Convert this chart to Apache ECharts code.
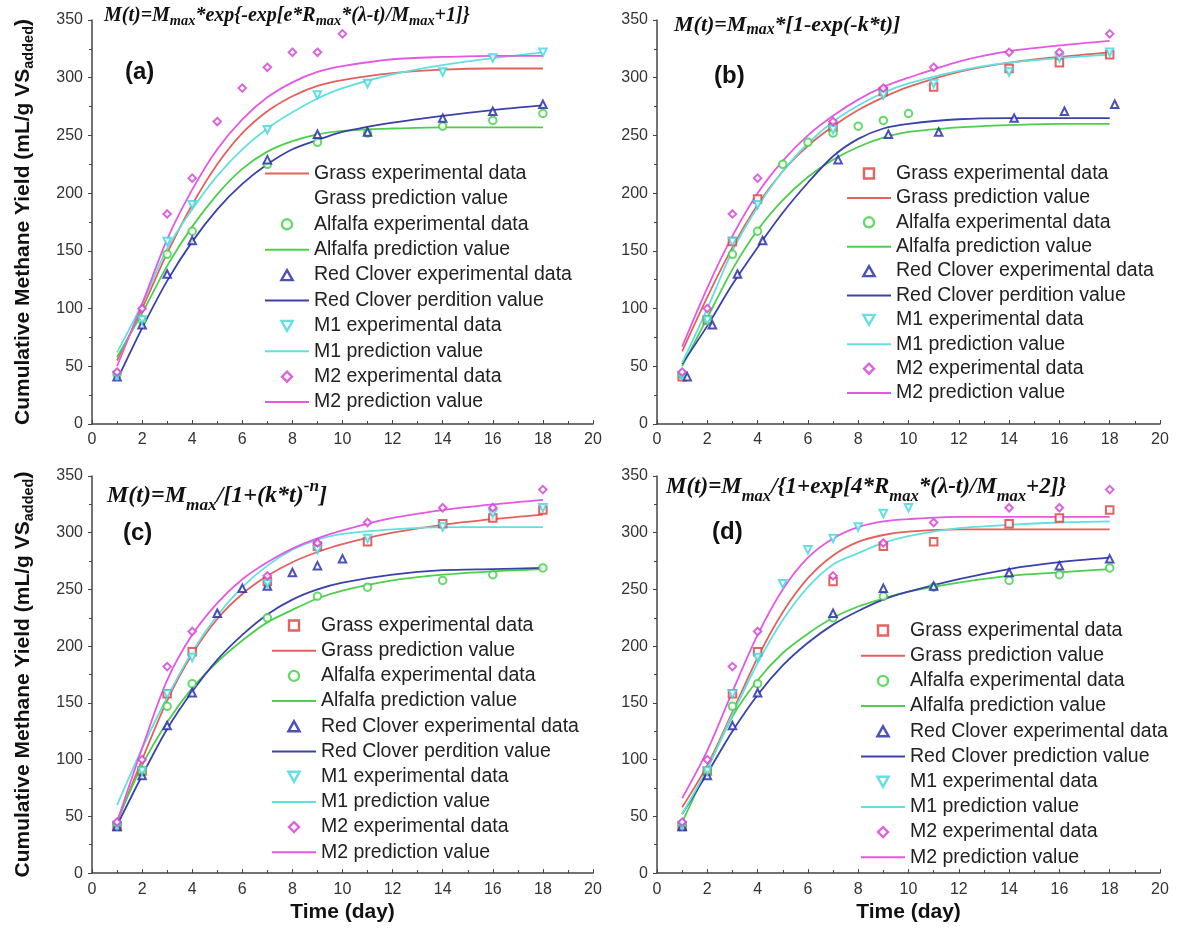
<!DOCTYPE html>
<html>
<head>
<meta charset="utf-8">
<script src="https://cdn.jsdelivr.net/npm/echarts@6/dist/echarts.min.js"></script>
<style>
  body { margin: 0; background: #fff; }
  .panel { position: absolute; height: 464px; }
</style>
</head>
<body>
<div id="pa" class="panel" style="left:0;top:0;width:610px"></div>
<div id="pb" class="panel" style="left:610px;top:0;width:568px"></div>
<div id="pc" class="panel" style="left:0;top:464px;width:610px"></div>
<div id="pd" class="panel" style="left:610px;top:464px;width:568px"></div>
<script>
// sampling days
const expDays = [1, 2, 3, 4, 7, 9, 11, 14, 16, 18];
const seqDays = [1, 2, 3, 4, 5, 6, 7, 8, 9, 10];
const shiftDays = [1.2, 2.2, 3.2, 4.2, 7.2, 9.2, 11.2, 14.2, 16.2, 18.2];
const fitDays = [1, 2, 3, 4, 5, 6, 7, 8, 9, 10, 12, 14, 16, 18];

// experimental data
const grassExp = [41, 90, 158, 195, 257, 288, 292, 308, 313, 320];
const alfalfaExp = [43, 90, 147, 167, 225, 244, 252, 258, 263, 269];
const cloverExp = [41, 86, 130, 159, 229, 251, 253, 265, 271, 277];
const m1Exp = [42, 90, 158, 190, 255, 285, 295, 305, 317, 322];
const m2Exp = [45, 100, 182, 213, 262, 291, 309, 322, 322, 338];

// (a) modified Gompertz
const grassFitA = [55, 100, 148, 190, 225, 252, 271, 284, 293, 298, 304, 307, 308, 308];
const alfalfaFitA = [58, 96, 137, 171, 199, 221, 236, 245, 251, 254, 256, 257, 257, 257];
const cloverFitA = [38, 83, 124, 158, 186, 208, 225, 238, 246, 253, 261, 267, 272, 276];
const m1FitA = [62, 104, 152, 186, 215, 238, 256, 270, 282, 291, 303, 311, 317, 322];
const m2FitA = [50, 104, 160, 203, 238, 264, 283, 296, 305, 310, 316, 318, 319, 319];

// (b) first order
const grassFitB = [63, 110, 153, 190, 219, 241, 258, 272, 283, 292, 305, 313, 318, 322];
const alfalfaFitB = [50, 92, 134, 168, 194, 214, 229, 240, 248, 253, 257, 259, 260, 260];
const cloverFitB = [52, 85, 121, 153, 183, 209, 232, 247, 256, 260, 264, 265, 265, 265];
const m1FitB = [53, 100, 150, 188, 219, 243, 262, 276, 287, 295, 306, 313, 317, 320];
const m2FitB = [67, 118, 163, 200, 228, 250, 267, 281, 292, 300, 314, 323, 328, 332];

// (c) cone
const grassFitC = [45, 100, 152, 193, 224, 246, 262, 274, 283, 290, 300, 307, 312, 316];
const alfalfaFitC = [46, 95, 133, 163, 186, 205, 221, 232, 242, 249, 258, 263, 266, 268];
const cloverFitC = [42, 86, 127, 160, 188, 210, 228, 241, 250, 256, 263, 267, 268, 269];
const m1FitC = [60, 110, 155, 195, 227, 252, 271, 285, 294, 299, 303, 305, 305, 305];
const m2FitC = [45, 110, 170, 210, 238, 259, 274, 286, 295, 302, 313, 320, 325, 329];

// (d) logistic
const grassFitD = [58, 95, 142, 190, 230, 260, 280, 292, 298, 301, 303, 303, 303, 303];
const alfalfaFitD = [45, 92, 138, 170, 194, 211, 225, 235, 242, 248, 256, 262, 265, 268];
const cloverFitD = [52, 88, 125, 157, 183, 203, 219, 231, 241, 248, 259, 268, 274, 278];
const m1FitD = [52, 92, 140, 185, 223, 252, 272, 282, 291, 297, 304, 307, 309, 310];
const m2FitD = [66, 108, 160, 210, 250, 278, 295, 305, 310, 312, 314, 314, 314, 314];

const markColors = { grass: '#e03a3a', alfalfa: '#3fcf45', clover: '#1f24a8', m1: '#3fd6e0', m2: '#d23fd2' };
const lineColors = { grass: '#e4605a', alfalfa: '#4ccf4c', clover: '#3a42a8', m1: '#62e0e0', m2: '#e458e4' };

// legend icons (kept to aspect inside the item box)
const icons = {
  line: 'path://M0,0h44v2h-44z',
  rect: 'path://M0,0h8v8h-8z',
  circle: 'path://M8,4A4,4,0,1,1,0,4A4,4,0,1,1,8,4z',
  triUp: 'path://M4.5,0L9,8L0,8z',
  triDown: 'path://M0,0L9,0L4.5,8z',
  diamond: 'path://M4.5,0L9,4.5L4.5,9L0,4.5z',
};

const pts = (xs, ys) => xs.map((x, i) => [x, ys[i]]);

function scatter(name, xs, ys, symbol, color, rotate) {
  return {
    name, type: 'scatter', data: pts(xs, ys), symbol, symbolSize: 7.5,
    symbolRotate: rotate || 0, itemStyle: { color, borderWidth: 1.6 }, z: 3,
  };
}

function curve(name, ys, color) {
  return {
    name, type: 'line', data: pts(fitDays, ys), smooth: 0.3,
    symbol: 'none', lineStyle: { color, width: 1.8 }, itemStyle: { color }, z: 2,
  };
}

const expItem = (name, icon, color) => ({
  name, icon, itemStyle: { color: '#fff', borderColor: color, borderWidth: 2.4 },
});
const lineItem = (name, color) => ({
  name, icon: icons.line, itemStyle: { color, borderWidth: 0 },
});

function fullSeries(fits, xs, cloverName) {
  return [
    scatter('Grass experimental data', xs[0], grassExp, 'emptyRect', markColors.grass),
    curve('Grass prediction value', fits[0], lineColors.grass),
    scatter('Alfalfa experimental data', xs[1], alfalfaExp, 'emptyCircle', markColors.alfalfa),
    curve('Alfalfa prediction value', fits[1], lineColors.alfalfa),
    scatter('Red Clover experimental data', xs[2], cloverExp, 'emptyTriangle', markColors.clover),
    curve(cloverName, fits[2], lineColors.clover),
    scatter('M1 experimental data', xs[3], m1Exp, 'emptyTriangle', markColors.m1, 180),
    curve('M1 prediction value', fits[3], lineColors.m1),
    scatter('M2 experimental data', xs[4], m2Exp, 'emptyDiamond', markColors.m2),
    curve('M2 prediction value', fits[4], lineColors.m2),
  ];
}

const stdLegend = (cloverName) => [
  expItem('Grass experimental data', icons.rect, markColors.grass),
  lineItem('Grass prediction value', lineColors.grass),
  expItem('Alfalfa experimental data', icons.circle, markColors.alfalfa),
  lineItem('Alfalfa prediction value', lineColors.alfalfa),
  expItem('Red Clover experimental data', icons.triUp, markColors.clover),
  lineItem(cloverName, lineColors.clover),
  expItem('M1 experimental data', icons.triDown, markColors.m1),
  lineItem('M1 prediction value', lineColors.m1),
  expItem('M2 experimental data', icons.diamond, markColors.m2),
  lineItem('M2 prediction value', lineColors.m2),
];

const formulaStyle = {
  fontFamily: 'Liberation Serif', fontStyle: 'italic', fontWeight: 'bold', color: '#111',
};

function drawPanel(id, p) {
  const chart = echarts.init(document.getElementById(id));
  const fs = p.formulaSize;
  chart.setOption({
    animation: false,
    title: [
      {
        text: p.formula, left: p.formulaPos[0], top: p.formulaPos[1], padding: 0,
        textStyle: Object.assign({}, formulaStyle, {
          fontSize: fs, lineHeight: fs + p.subDrop,
          rich: {
            s: Object.assign({}, formulaStyle, { fontSize: fs * 0.72, verticalAlign: 'bottom', lineHeight: fs * 0.72 }),
            u: Object.assign({}, formulaStyle, { fontSize: fs * 0.72, verticalAlign: 'top', lineHeight: fs * 0.72 }),
          },
        }),
      },
      {
        text: p.label, left: p.labelPos[0], top: p.labelPos[1], padding: 0,
        textStyle: { fontFamily: 'Arial', fontWeight: 'bold', fontSize: 24, color: '#111' },
      },
    ],
    legend: {
      orient: 'vertical', left: p.legendPos[0], top: p.legendPos[1], padding: 0,
      itemWidth: 44, itemHeight: 10, itemGap: p.legendGap, selectedMode: false,
      symbolKeepAspect: true,
      textStyle: { fontFamily: 'Arial', fontSize: 19.5, color: '#222', lineHeight: 21 },
      data: p.legendData,
    },
    grid: p.grid,
    xAxis: {
      type: 'value', min: 0, max: 20, interval: 2,
      name: p.bottom ? 'Time (day)' : '', nameLocation: 'middle', nameGap: 22,
      nameTextStyle: { fontFamily: 'Arial', fontWeight: 'bold', fontSize: 21, color: '#111' },
      axisLine: { lineStyle: { color: '#444', width: 1.5 } },
      axisTick: { inside: true, length: 4, lineStyle: { color: '#444' } },
      minorTick: { show: true, splitNumber: 2, length: 3, lineStyle: { color: '#444' } },
      splitLine: { show: false },
      axisLabel: { fontFamily: 'Arial', fontSize: 16, color: '#333', margin: 8 },
    },
    yAxis: {
      type: 'value', min: 0, max: 350, interval: 50,
      name: p.left ? '{t|Cumulative Methane Yield (mL/g VS}{s|added}{t|)}' : '',
      nameLocation: 'middle', nameGap: 56,
      nameTextStyle: {
        rich: {
          t: { fontFamily: 'Arial', fontWeight: 'bold', fontSize: 21, color: '#111', lineHeight: 25 },
          s: { fontFamily: 'Arial', fontWeight: 'bold', fontSize: 14.5, color: '#111', lineHeight: 16, verticalAlign: 'bottom' },
        },
      },
      axisLine: { show: true, lineStyle: { color: '#444', width: 1.5 } },
      axisTick: { show: true, inside: false, length: 4, lineStyle: { color: '#444' } },
      minorTick: { show: true, splitNumber: 2, length: 3, lineStyle: { color: '#444' } },
      splitLine: { show: false },
      axisLabel: { fontFamily: 'Arial', fontSize: 16, color: '#333', margin: 9 },
    },
    series: p.series,
  });
}

// (a)
const seriesA = [
  curve('Grass experimental data', grassFitA, lineColors.grass),
  { name: 'Grass prediction value', type: 'line', data: [], symbol: 'none' },
  scatter('Alfalfa experimental data', expDays, alfalfaExp, 'emptyCircle', markColors.alfalfa),
  curve('Alfalfa prediction value', alfalfaFitA, lineColors.alfalfa),
  scatter('Red Clover experimental data', expDays, cloverExp, 'emptyTriangle', markColors.clover),
  curve('Red Clover perdition value', cloverFitA, lineColors.clover),
  scatter('M1 experimental data', expDays, m1Exp, 'emptyTriangle', markColors.m1, 180),
  curve('M1 prediction value', m1FitA, lineColors.m1),
  scatter('M2 experimental data', seqDays, m2Exp, 'emptyDiamond', markColors.m2),
  curve('M2 prediction value', m2FitA, lineColors.m2),
];
const legendA = stdLegend('Red Clover perdition value');
legendA[0] = lineItem('Grass experimental data', lineColors.grass);
legendA[1] = { name: 'Grass prediction value', icon: icons.line, itemStyle: { opacity: 0 } };

drawPanel('pa', {
  formula: 'M(t)=M{s|max}*exp{-exp[e*R{s|max}*(λ-t)/M{s|max}+1]}',
  formulaSize: 20, subDrop: 4, formulaPos: [104, 4],
  label: '(a)', labelPos: [125, 60],
  legendPos: [265, 163], legendGap: 4.4, legendData: legendA,
  grid: { left: 92, top: 20, width: 501, height: 404 },
  left: true, bottom: false, series: seriesA,
});

// (b)
drawPanel('pb', {
  formula: 'M(t)=M{s|max}*[1-exp(-k*t)]',
  formulaSize: 22, subDrop: 4, formulaPos: [64, 12],
  label: '(b)', labelPos: [104, 64],
  legendPos: [237, 163], legendGap: 3.4, legendData: stdLegend('Red Clover perdition value'),
  grid: { left: 47, top: 20, width: 503, height: 404 },
  left: false, bottom: false,
  series: fullSeries([grassFitB, alfalfaFitB, cloverFitB, m1FitB, m2FitB],
    [expDays, seqDays, shiftDays, expDays, expDays], 'Red Clover perdition value'),
});

// (c)
drawPanel('pc', {
  formula: 'M(t)=M{s|max}/[1+(k*t){u|-n}]',
  formulaSize: 24, subDrop: 12, formulaPos: [107, 14],
  label: '(c)', labelPos: [123, 57],
  legendPos: [272, 151], legendGap: 4.2, legendData: stdLegend('Red Clover perdition value'),
  grid: { left: 92, top: 12, width: 501, height: 404 },
  left: true, bottom: true,
  series: fullSeries([grassFitC, alfalfaFitC, cloverFitC, m1FitC, m2FitC],
    [expDays, expDays, seqDays, expDays, expDays], 'Red Clover perdition value'),
});

// (d)
drawPanel('pd', {
  formula: 'M(t)=M{s|max}/{1+exp[4*R{s|max}*(λ-t)/M{s|max}+2]}',
  formulaSize: 23, subDrop: 12, formulaPos: [56, 6],
  label: '(d)', labelPos: [102, 56],
  legendPos: [251, 156], legendGap: 4.2, legendData: stdLegend('Red Clover prediction value'),
  grid: { left: 47, top: 12, width: 503, height: 404 },
  left: false, bottom: true,
  series: fullSeries([grassFitD, alfalfaFitD, cloverFitD, m1FitD, m2FitD],
    [expDays, expDays, expDays, seqDays, expDays], 'Red Clover prediction value'),
});
</script>
</body>
</html>
